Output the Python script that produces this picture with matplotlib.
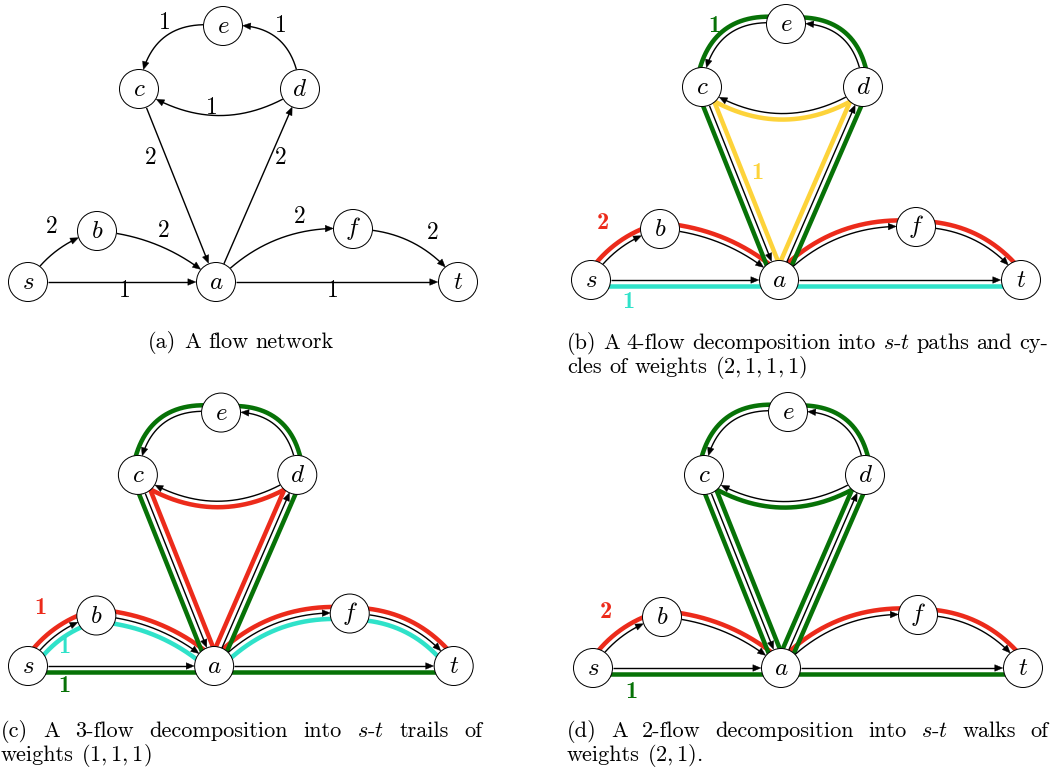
import numpy as np
import matplotlib.pyplot as plt
from matplotlib.patches import Circle, Polygon

plt.rcParams['mathtext.fontset'] = 'cm'

# graph data
nodes = ['s', 'b', 'a', 'f', 't', 'c', 'd', 'e']
edges = ['sb', 'ba', 'sa', 'af', 'ft', 'at', 'ca', 'ad', 'dc', 'de', 'ec']
flow = [2, 2, 1, 2, 2, 1, 2, 2, 1, 1, 1]

# flow decompositions (walks + weights)
walks_b = ['sbaft', 'sat', 'cadec', 'adca']
weights_b = [2, 1, 1, 1]
walks_c = ['sbadcaft', 'sbaft', 'sadecat']
weights_c = [1, 1, 1]
walks_d = ['sbaft', 'sadecadcat']
weights_d = [2, 1]

# ---- layout / style ----
layout = {'s': (0, 0), 'b': (69, -51), 'a': (188, 0), 'f': (325, -53), 't': (430, 0),
          'c': (111, -193), 'd': (272, -193), 'e': (195, -256)}
bend = {'sb': 0.19, 'ba': 0.17, 'sa': 0.0, 'af': 0.24, 'ft': 0.25, 'at': 0.0,
        'ca': 0.0, 'ad': 0.0, 'dc': 0.33, 'de': -0.5, 'ec': -0.5}
R = 19.5
OFF = 6.0
RED, GREEN, CYAN, YELLOW = '#EC2B1B', '#077207', '#2FE2C9', '#FDD33A'
PX = 0.72  # points per pixel at dpi 100
CAP_FS = 16

fig = plt.figure(figsize=(10.53, 7.71), dpi=100)
ax = fig.add_axes([0, 0, 1, 1])
ax.set_xlim(0, 1053)
ax.set_ylim(771, 0)
ax.axis('off')


def curve(p, q, bnd, n=300):
    p, q = np.asarray(p, float), np.asarray(q, float)
    d = q - p
    L = np.hypot(*d)
    c = (p + q) / 2 + bnd * L * np.array([d[1], -d[0]]) / L
    t = np.linspace(0, 1, n)[:, None]
    pts = (1 - t) ** 2 * p + 2 * (1 - t) * t * c + t ** 2 * q
    tan = 2 * (1 - t) * (c - p) + 2 * t * (q - c)
    tan = tan / np.hypot(tan[:, 0], tan[:, 1])[:, None]
    left = np.column_stack([tan[:, 1], -tan[:, 0]])
    return pts, tan, left


def draw_graph(origin, scale=1.0):
    pos = {k: (origin[0] + scale * v[0], origin[1] + scale * v[1]) for k, v in layout.items()}
    for e in edges:
        P, Q = np.array(pos[e[0]]), np.array(pos[e[1]])
        pts, tan, left = curve(P, Q, bend[e])
        d0 = np.hypot(*(pts - P).T)
        d1 = np.hypot(*(pts - Q).T)
        idx = np.where((d0 >= R) & (d1 >= R))[0]
        i0, i1 = idx[0], idx[-1]
        tip, dr = pts[i1], tan[i1]
        lv = np.array([dr[1], -dr[0]])
        hl, hw = 8.0, 3.3
        base = tip - hl * dr
        seg = pts[i0:i1 + 1]
        seg = seg[np.hypot(*(seg - tip).T) > hl * 0.6]
        seg = np.vstack([seg, tip - 0.6 * hl * dr])
        ax.plot(seg[:, 0], seg[:, 1], color='black', lw=1.4 * PX, zorder=2,
                solid_capstyle='butt')
        ax.add_patch(Polygon([tip, base + hw * lv, base - hw * lv], closed=True,
                             fc='black', ec='black', lw=0.3, zorder=2))
    for k in nodes:
        ax.add_patch(Circle(pos[k], R, fc='white', ec='black', lw=1.0 * PX, zorder=3))
        ax.text(pos[k][0], pos[k][1], '$%s$' % k, fontsize=18, ha='center',
                va='center', zorder=4)
    return pos


def draw_walk(pos, walk, color, sides):
    steps = [walk[i:i + 2] for i in range(len(walk) - 1)]
    if np.isscalar(sides):
        sides = [sides] * len(steps)
    for st, sd in zip(steps, sides):
        pts, tan, left = curve(pos[st[0]], pos[st[1]], bend[st])
        o = pts + sd * OFF * left
        ax.plot(o[:, 0], o[:, 1], color=color, lw=4.5 * PX, zorder=1,
                solid_capstyle='butt')


def weight_label(xy, w, color=None):
    if color is None:
        ax.text(xy[0], xy[1], str(w), fontsize=17, family='cmr10',
                ha='center', va='center', zorder=4)
    else:
        ax.text(xy[0], xy[1], str(w), fontsize=17.5, family='cmb10', color=color,
                ha='center', va='center', zorder=4)


renderer = fig.canvas.get_renderer()


def text_line(words, x0, y, fs=CAP_FS, x1=None, center=None):
    ts = [ax.text(0, y, w, fontsize=fs, family='cmr10', va='baseline', ha='left')
          for w in words]
    wid = [t.get_window_extent(renderer).width for t in ts]
    if x1 is not None:
        gap = (x1 - x0 - sum(wid)) / (len(words) - 1)
    else:
        gap = fs * 0.333 / PX
    if center is not None:
        x0 = center - (sum(wid) + gap * (len(words) - 1)) / 2
    x = x0
    for t, w in zip(ts, wid):
        t.set_x(x)
        x += w + gap


# (a) flow network
pos_a = draw_graph((28, 282))
label_pos = {'sb': (52, 227), 'ba': (164, 231), 'sa': (125, 291), 'af': (300, 217),
             'ft': (433, 233), 'at': (333, 291), 'ca': (151, 158), 'ad': (281, 158),
             'dc': (212, 108), 'ec': (165, 23), 'de': (281, 26)}
for e, w in zip(edges, flow):
    weight_label(label_pos[e], w)
text_line(['(a)', 'A', 'flow', 'network'], 0, 348, center=241)

# (b) paths and cycles
pos_b = draw_graph((591, 280))
cols_b = [RED, CYAN, GREEN, YELLOW]
sides_b = [1, -1, -1, 1]
lab_b = [(603, 223), (628, 302), (714, 26), (757, 173)]
for wk, w, c, sd, lp in zip(walks_b, weights_b, cols_b, sides_b, lab_b):
    draw_walk(pos_b, wk, c, sd)
    weight_label(lp, w, c)
text_line(['(b)', 'A', '4-flow', 'decomposition', 'into', '$s$-$t$', 'paths', 'and', 'cy-'],
          567, 349, x1=1048)
text_line(['cles', 'of', 'weights', '$(2,1,1,1)$'], 567, 373)

# (c) trails
pos_c = draw_graph((28, 666), 0.99)
cols_c = [RED, CYAN, GREEN]
sides_c = [1, -1, -1]
lab_c = [(40, 608), (64, 647), (64, 686)]
for wk, w, c, sd, lp in zip(walks_c, weights_c, cols_c, sides_c, lab_c):
    draw_walk(pos_c, wk, c, sd)
    weight_label(lp, w, c)
text_line(['(c)', 'A', '3-flow', 'decomposition', 'into', '$s$-$t$', 'trails', 'of'],
          1, 737, x1=482)
text_line(['weights', '$(1,1,1)$'], 1, 761)

# (d) walks
pos_d = draw_graph((593, 668))
cols_d = [RED, GREEN]
sides_d = [1, [-1, -1, -1, -1, -1, 1, 1, 1, -1]]
lab_d = [(606, 612), (631, 692)]
for wk, w, c, sd, lp in zip(walks_d, weights_d, cols_d, sides_d, lab_d):
    draw_walk(pos_d, wk, c, sd)
    weight_label(lp, w, c)
text_line(['(d)', 'A', '2-flow', 'decomposition', 'into', '$s$-$t$', 'walks', 'of'],
          567, 737, x1=1048)
text_line(['weights', '$(2,1)$.'], 567, 761)

fig.savefig('out.png', dpi=100)
